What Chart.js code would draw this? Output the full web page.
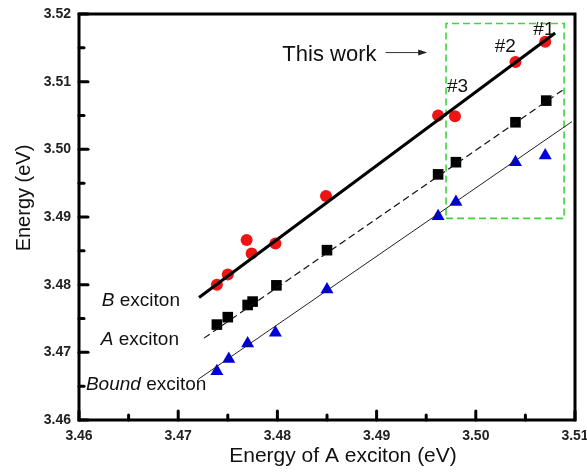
<!DOCTYPE html>
<html>
<head>
<meta charset="utf-8">
<script src="https://cdn.jsdelivr.net/npm/chart.js@4/dist/chart.umd.min.js"></script>
<style>
  html, body { margin: 0; padding: 0; background: #ffffff; }
  #wrap { width: 587px; height: 473px; }
</style>
</head>
<body>
<div id="wrap"><canvas id="c" width="587" height="473"></canvas></div>
<script>
// Axis ticks
const xTicks = [3.46, 3.47, 3.48, 3.49, 3.50, 3.51];
const yTicks = [3.46, 3.47, 3.48, 3.49, 3.50, 3.51, 3.52];

// Measured exciton energies (eV) against the A-exciton energy
const energyA      = [3.4739, 3.4750, 3.4770, 3.4775, 3.4799, 3.4850, 3.4962, 3.4980, 3.5040, 3.5071];
const aExciton     = [3.4741, 3.4752, 3.4770, 3.4775, 3.4799, 3.4851, 3.4963, 3.4981, 3.5040, 3.5072];
const bExcitonX    = [3.4739, 3.4750, 3.4769, 3.4774, 3.4798, 3.4849, 3.4962, 3.4979, 3.5040, 3.5070];
const bExciton     = [3.4800, 3.4815, 3.4866, 3.4846, 3.4861, 3.4931, 3.5050, 3.5049, 3.5129, 3.5159];
const boundX       = [3.4739, 3.4751, 3.4770, 3.4798, 3.4850, 3.4962, 3.4980, 3.5040, 3.5070];
const boundExciton = [3.4672, 3.4690, 3.4713, 3.4729, 3.4793, 3.4901, 3.4922, 3.4981, 3.4991];

// Linear fits (end points)
const bFitX = [3.4721, 3.5080];     const bFitY = [3.4781, 3.5172];
const aFitX = [3.4726, 3.5088];     const aFitY = [3.4721, 3.5088];
const boundFitX = [3.4720, 3.5097]; const boundFitY = [3.4660, 3.5041];

// Highlighted region of this work's samples
const boxX = [3.4970, 3.5089];
const boxY = [3.4898, 3.5186];

const pts = (xs, ys) => xs.map((x, i) => ({ x, y: ys[i] }));
const FONT = "'Liberation Sans', Arial, sans-serif";

const boxData = [
  { x: boxX[0], y: boxY[0] }, { x: boxX[1], y: boxY[0] },
  { x: boxX[1], y: boxY[1] }, { x: boxX[0], y: boxY[1] },
  { x: boxX[0], y: boxY[0] }
];

// Text annotations in data coordinates (left edge, baseline)
const notes = [
  { parts: [['This work', '']], x: 3.4805, y: 3.5130, size: 22 },
  { parts: [['#1', '']], x: 3.5058, y: 3.5169, size: 19 },
  { parts: [['#2', '']], x: 3.5019, y: 3.5144, size: 19 },
  { parts: [['#3', '']], x: 3.4971, y: 3.5085, size: 19 },
  { parts: [['B', 'italic '], [' exciton', '']], x: 3.4623, y: 3.4768, size: 19 },
  { parts: [['A', 'italic '], [' exciton', '']], x: 3.4622, y: 3.4711, size: 19 },
  { parts: [['Bound', 'italic '], [' exciton', '']], x: 3.4607, y: 3.4644, size: 19 }
];
const arrowFrom = { x: 3.4909, y: 3.5143 };
const arrowTo   = { x: 3.4951, y: 3.5143 };

const decor = {
  id: 'decor',
  afterDraw(chart) {
    const { ctx, chartArea: a, scales: { x: sx, y: sy } } = chart;
    ctx.save();

    // frame
    ctx.strokeStyle = '#000';
    ctx.lineWidth = 3;
    ctx.lineJoin = 'miter';
    ctx.strokeRect(a.left, a.top, a.right - a.left, a.bottom - a.top);

    // inward ticks on left and bottom axes
    ctx.lineCap = 'round';
    const tick = (x1, y1, x2, y2) => { ctx.beginPath(); ctx.moveTo(x1, y1); ctx.lineTo(x2, y2); ctx.stroke(); };
    xTicks.forEach((v, i) => {
      const p = sx.getPixelForValue(v);
      tick(p, a.bottom, p, a.bottom - 9);
      if (i < xTicks.length - 1) {
        const m = sx.getPixelForValue((v + xTicks[i + 1]) / 2);
        tick(m, a.bottom, m, a.bottom - 5);
      }
    });
    yTicks.forEach((v, i) => {
      const p = sy.getPixelForValue(v);
      tick(a.left, p, a.left + 9, p);
      if (i < yTicks.length - 1) {
        const m = sy.getPixelForValue((v + yTicks[i + 1]) / 2);
        tick(a.left, m, a.left + 5, m);
      }
    });

    // annotations
    ctx.fillStyle = '#111';
    ctx.textBaseline = 'alphabetic';
    ctx.textAlign = 'left';
    notes.forEach(n => {
      let px = sx.getPixelForValue(n.x);
      const py = sy.getPixelForValue(n.y);
      n.parts.forEach(([t, style]) => {
        ctx.font = style + n.size + 'px ' + FONT;
        ctx.fillText(t, px, py);
        px += ctx.measureText(t).width;
      });
    });

    // arrow
    const ax1 = sx.getPixelForValue(arrowFrom.x), ay = sy.getPixelForValue(arrowFrom.y);
    const ax2 = sx.getPixelForValue(arrowTo.x);
    ctx.strokeStyle = '#333';
    ctx.lineWidth = 1;
    ctx.lineCap = 'butt';
    tick(ax1, ay, ax2 - 6, ay);
    ctx.fillStyle = '#222';
    ctx.beginPath();
    ctx.moveTo(ax2, ay);
    ctx.lineTo(ax2 - 9, ay - 3);
    ctx.lineTo(ax2 - 9, ay + 3);
    ctx.closePath();
    ctx.fill();

    // axis titles
    ctx.fillStyle = '#111';
    ctx.font = '21px ' + FONT;
    ctx.textAlign = 'center';
    ctx.fillText('Energy of A exciton (eV)', 343, 462);
    ctx.translate(29.5, 198);
    ctx.rotate(-Math.PI / 2);
    ctx.font = '20px ' + FONT;
    ctx.fillText('Energy (eV)', 0, 0);

    ctx.restore();
  }
};

new Chart(document.getElementById('c'), {
  type: 'scatter',
  data: {
    datasets: [
      { data: pts(bFitX, bFitY), showLine: true, borderColor: '#000', borderWidth: 3, pointRadius: 0 },
      { data: pts(aFitX, aFitY), showLine: true, borderColor: '#111', borderWidth: 1.2, borderDash: [7, 4], pointRadius: 0 },
      { data: pts(boundFitX, boundFitY), showLine: true, borderColor: '#222', borderWidth: 1, pointRadius: 0 },
      { data: boxData, showLine: true, borderColor: '#3fd43f', borderWidth: 1.6, borderDash: [7, 4], pointRadius: 0 },
      { data: pts(bExcitonX, bExciton), pointStyle: 'circle', pointRadius: 6, backgroundColor: '#ee1414', borderColor: '#ee1414', borderWidth: 0 },
      { data: pts(energyA, aExciton), pointStyle: 'rect', pointRadius: 7.5, backgroundColor: '#000', borderColor: '#000', borderWidth: 0 },
      { data: pts(boundX, boundExciton), pointStyle: 'triangle', pointRadius: 7.5, backgroundColor: '#0000dd', borderColor: '#0000dd', borderWidth: 0 }
    ]
  },
  options: {
    responsive: false,
    devicePixelRatio: 1,
    animation: false,
    layout: { padding: { top: 14, right: 12, left: 0, bottom: 0 } },
    plugins: { legend: { display: false }, tooltip: { enabled: false } },
    scales: {
      x: {
        type: 'linear', position: 'bottom', min: 3.46, max: 3.51,
        afterBuildTicks: s => { s.ticks = xTicks.map(v => ({ value: v })); },
        afterFit: s => { s.height = 53; s.paddingLeft = 0; s.paddingRight = 0; },
        grid: { display: false, drawTicks: false },
        border: { display: false },
        ticks: {
          autoSkip: false, maxRotation: 0, padding: 8, color: '#222',
          font: { family: FONT, weight: 'bold', size: 14 },
          callback: v => v.toFixed(2)
        }
      },
      y: {
        type: 'linear', position: 'left', min: 3.46, max: 3.52,
        afterBuildTicks: s => { s.ticks = yTicks.map(v => ({ value: v })); },
        afterFit: s => { s.width = 79; s.paddingTop = 0; s.paddingBottom = 0; },
        grid: { display: false, drawTicks: false },
        border: { display: false },
        ticks: {
          autoSkip: false, padding: 8, color: '#222',
          font: { family: FONT, weight: 'bold', size: 14 },
          callback: v => v.toFixed(2)
        }
      }
    }
  },
  plugins: [decor]
});
</script>
</body>
</html>
